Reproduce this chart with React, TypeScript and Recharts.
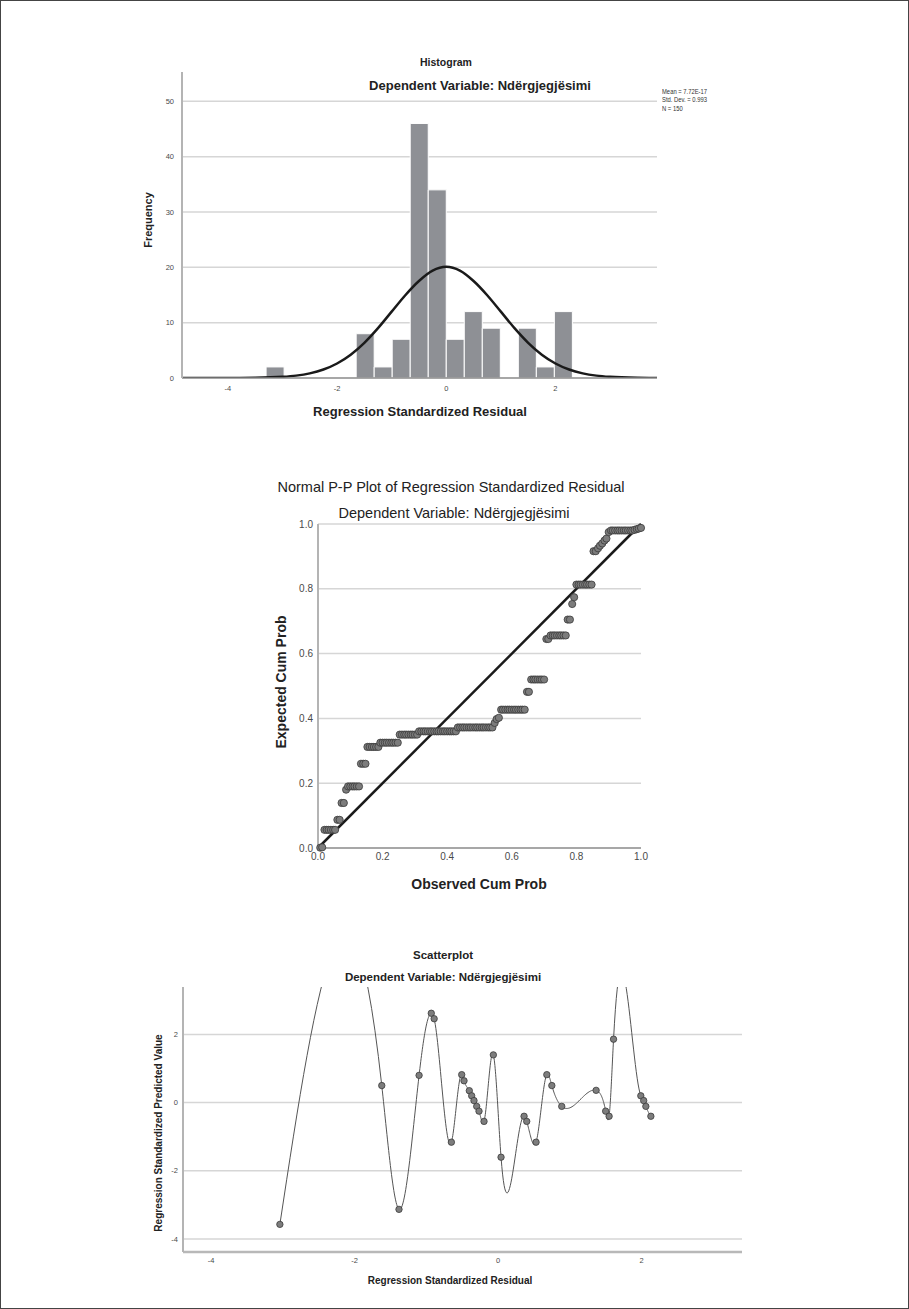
import React from "react";
import {
  ComposedChart,
  Line,
  XAxis,
  YAxis,
  CartesianGrid,
  ReferenceArea,
  ReferenceLine,
  Scatter,
} from "recharts";

// ---- histogram ----
const HIST_BIN_START = [-3.3, -1.65, -1.32, -0.99, -0.66, -0.33, 0.0, 0.33, 0.66, 1.32, 1.65, 1.98];
const HIST_COUNTS = [2, 8, 2, 7, 46, 34, 7, 12, 9, 9, 2, 12];
const HIST_BIN_WIDTH = 0.33;
const HIST_X_TICKS = [-4, -2, 0, 2];
const HIST_Y_TICKS = [0, 10, 20, 30, 40, 50];
const HIST_GRID = [10, 20, 30, 40, 50];
// normal curve
const HIST_CURVE_X = [
  -4.84, -4.5, -4.0, -3.5, -3.0, -2.75, -2.5, -2.25, -2.0, -1.75, -1.5, -1.25, -1.0, -0.75, -0.5, -0.25,
  0, 0.25, 0.5, 0.75, 1.0, 1.25, 1.5, 1.75, 2.0, 2.25, 2.5, 2.75, 3.0, 3.5, 3.86,
];
const HIST_CURVE_Y = [
  0, 0, 0.01, 0.04, 0.21, 0.43, 0.84, 1.53, 2.62, 4.21, 6.36, 9.01, 11.99, 14.96, 17.53, 19.4,
  20.1, 19.4, 17.53, 14.96, 11.99, 9.01, 6.36, 4.21, 2.62, 1.53, 0.84, 0.43, 0.21, 0.04, 0.01,
];
const HIST_STATS = ["Mean = 7.72E-17", "Std. Dev. = 0.993", "N = 150"];

// ---- P-P plot ----
const PP_TICKS = [0, 0.2, 0.4, 0.6, 0.8, 1.0];
const PP_GRID = [0.2, 0.4, 0.6, 0.8, 1.0];
const PP_DIAGONAL = [0, 1];
const PP_OBSERVED = [
  0.007, 0.013, 0.02, 0.027, 0.033, 0.04, 0.047, 0.053, 0.06, 0.067,
  0.073, 0.08, 0.087, 0.093, 0.1, 0.107, 0.113, 0.12, 0.127, 0.133,
  0.14, 0.147, 0.153, 0.16, 0.167, 0.173, 0.18, 0.187, 0.193, 0.2,
  0.207, 0.213, 0.22, 0.227, 0.233, 0.24, 0.247, 0.253, 0.26, 0.267,
  0.273, 0.28, 0.287, 0.293, 0.3, 0.307, 0.313, 0.32, 0.327, 0.333,
  0.34, 0.347, 0.353, 0.36, 0.367, 0.373, 0.38, 0.387, 0.393, 0.4,
  0.407, 0.413, 0.42, 0.427, 0.433, 0.44, 0.447, 0.453, 0.46, 0.467,
  0.473, 0.48, 0.487, 0.493, 0.5, 0.507, 0.513, 0.52, 0.527, 0.533,
  0.54, 0.547, 0.553, 0.56, 0.567, 0.573, 0.58, 0.587, 0.593, 0.6,
  0.607, 0.613, 0.62, 0.627, 0.633, 0.64, 0.647, 0.653, 0.66, 0.667,
  0.673, 0.68, 0.687, 0.693, 0.7, 0.707, 0.713, 0.72, 0.727, 0.733,
  0.74, 0.747, 0.753, 0.76, 0.767, 0.773, 0.78, 0.787, 0.793, 0.8,
  0.807, 0.813, 0.82, 0.827, 0.833, 0.84, 0.847, 0.853, 0.86, 0.867,
  0.873, 0.88, 0.887, 0.893, 0.9, 0.907, 0.913, 0.92, 0.927, 0.933,
  0.94, 0.947, 0.953, 0.96, 0.967, 0.973, 0.98, 0.987, 0.993, 1.0,
];
const PP_EXPECTED = [
  0.001, 0.002, 0.056, 0.056, 0.056, 0.056, 0.056, 0.056, 0.087, 0.087,
  0.139, 0.139, 0.18, 0.19, 0.19, 0.19, 0.19, 0.19, 0.19, 0.26,
  0.26, 0.26, 0.312, 0.312, 0.312, 0.312, 0.312, 0.312, 0.325, 0.325,
  0.325, 0.325, 0.325, 0.325, 0.325, 0.325, 0.325, 0.35, 0.35, 0.35,
  0.35, 0.35, 0.35, 0.35, 0.35, 0.35, 0.36, 0.36, 0.36, 0.36,
  0.36, 0.36, 0.36, 0.36, 0.36, 0.36, 0.36, 0.36, 0.36, 0.36,
  0.36, 0.36, 0.36, 0.36, 0.372, 0.372, 0.372, 0.372, 0.372, 0.372,
  0.372, 0.372, 0.372, 0.372, 0.372, 0.372, 0.372, 0.372, 0.372, 0.372,
  0.372, 0.386, 0.398, 0.402, 0.427, 0.427, 0.427, 0.427, 0.427, 0.427,
  0.427, 0.427, 0.427, 0.427, 0.427, 0.427, 0.482, 0.482, 0.52, 0.52,
  0.52, 0.52, 0.52, 0.52, 0.52, 0.645, 0.645, 0.656, 0.656, 0.656,
  0.656, 0.656, 0.656, 0.656, 0.656, 0.705, 0.705, 0.753, 0.774, 0.813,
  0.813, 0.813, 0.813, 0.813, 0.813, 0.813, 0.813, 0.916, 0.916, 0.925,
  0.933, 0.94, 0.949, 0.955, 0.975, 0.98, 0.98, 0.98, 0.98, 0.98,
  0.98, 0.98, 0.98, 0.98, 0.98, 0.98, 0.982, 0.984, 0.986, 0.988,
];

// ---- scatterplot ----
const SCAT_X = [
  -3.04, -1.62, -1.38, -1.1, -0.93, -0.89, -0.65, -0.506, -0.474, -0.4, -0.367, -0.335, -0.297, -0.265,
  -0.195, -0.065, 0.042, 0.363, 0.4, 0.53, 0.68, 0.75, 0.888, 1.367, 1.5, 1.548, 1.61, 1.99, 2.03, 2.06, 2.13,
];
const SCAT_Y = [
  -3.57, 0.5, -3.13, 0.8, 2.62, 2.46, -1.16, 0.82, 0.64, 0.35, 0.2, 0.06, -0.11, -0.25,
  -0.55, 1.4, -1.6, -0.4, -0.55, -1.16, 0.82, 0.5, -0.11, 0.36, -0.25, -0.4, 1.86, 0.2, 0.06, -0.11, -0.4,
];
const SCAT_TICKS = [-4, -2, 0, 2];

const FONT = '"Liberation Sans", Arial, sans-serif';
const TICK = { fontSize: 7.5, fill: "#4a4a4a", fontFamily: FONT };
const GRID = "#d6d6d6";

// natural cubic spline y(x) drawn as a d3-style curve factory (SPSS "spline" line)
const xSpline = (context: any) => {
  let px: number[] = [];
  let py: number[] = [];
  return {
    areaStart() {},
    areaEnd() {},
    lineStart() {
      px = [];
      py = [];
    },
    point(x: number, y: number) {
      px.push(+x);
      py.push(+y);
    },
    lineEnd() {
      const n = px.length;
      if (!n) return;
      context.moveTo(px[0], py[0]);
      if (n < 3) {
        for (let i = 1; i < n; i++) context.lineTo(px[i], py[i]);
        return;
      }
      const h: number[] = [];
      for (let i = 0; i < n - 1; i++) h.push(px[i + 1] - px[i]);
      const a: number[] = [], b: number[] = [], c: number[] = [], d: number[] = [];
      for (let i = 1; i < n - 1; i++) {
        a.push(h[i - 1]);
        b.push(2 * (h[i - 1] + h[i]));
        c.push(h[i]);
        d.push(6 * ((py[i + 1] - py[i]) / h[i] - (py[i] - py[i - 1]) / h[i - 1]));
      }
      const k = b.length;
      for (let i = 1; i < k; i++) {
        const w = a[i] / b[i - 1];
        b[i] -= w * c[i - 1];
        d[i] -= w * d[i - 1];
      }
      const m = new Array(n).fill(0);
      m[k] = d[k - 1] / b[k - 1];
      for (let i = k - 2; i >= 0; i--) m[i + 1] = (d[i] - c[i] * m[i + 2]) / b[i];
      for (let i = 0; i < n - 1; i++) {
        const steps = 30;
        for (let s = 1; s <= steps; s++) {
          const x = px[i] + (h[i] * s) / steps;
          const A = (px[i + 1] - x) / h[i];
          const B = 1 - A;
          const y =
            A * py[i] + B * py[i + 1] + ((A * A * A - A) * m[i] + (B * B * B - B) * m[i + 1]) * (h[i] * h[i]) / 6;
          context.lineTo(x, y);
        }
      }
    },
  };
};

function Txt({
  x, y, size, bold, rotate, children, color = "#222",
}: {
  x: number; y: number; size: number; bold?: boolean; rotate?: boolean; children: React.ReactNode; color?: string;
}) {
  return (
    <div
      style={{
        position: "absolute",
        left: x,
        top: y,
        transform: `translate(-50%, -50%)${rotate ? " rotate(-90deg)" : ""}`,
        whiteSpace: "nowrap",
        fontSize: size,
        fontWeight: bold ? "bold" : "normal",
        color,
        lineHeight: 1,
      }}
    >
      {children}
    </div>
  );
}

export default function App() {
  const histCurve = HIST_CURVE_X.map((x, i) => ({ x, y: HIST_CURVE_Y[i] }));
  const ppPoints = PP_OBSERVED.map((x, i) => ({ x, y: PP_EXPECTED[i] }));
  const scatPoints = SCAT_X.map((x, i) => ({ x, y: SCAT_Y[i] }));

  return (
    <div
      style={{
        position: "absolute",
        left: 0,
        top: 0,
        width: 909,
        height: 1309,
        background: "#fff",
        fontFamily: FONT,
        overflow: "hidden",
      }}
    >
      <div
        style={{
          position: "absolute",
          left: 0,
          top: 0,
          width: 909,
          height: 1309,
          border: "1px solid #444",
          boxSizing: "border-box",
          pointerEvents: "none",
        }}
      />

      {/* Histogram */}
      <Txt x={446} y={62} size={10.5} bold>Histogram</Txt>
      <Txt x={480} y={85} size={13} bold>Dependent Variable: Ndërgjegjësimi</Txt>
      <div
        style={{
          position: "absolute",
          left: 662,
          top: 88,
          fontSize: 7.5,
          lineHeight: "8.3px",
          color: "#333",
          transform: "scaleX(0.78)",
          transformOrigin: "left top",
          whiteSpace: "nowrap",
        }}
      >
        {HIST_STATS.map((s) => (
          <div key={s}>{s}</div>
        ))}
      </div>
      <Txt x={148} y={220} size={11} bold rotate>Frequency</Txt>
      <Txt x={420} y={411} size={13} bold>Regression Standardized Residual</Txt>
      <div style={{ position: "absolute", left: 0, top: 60 }}>
        <ComposedChart
          width={909}
          height={346}
          data={histCurve}
          margin={{ top: 12, right: 252, bottom: 4, left: 142 }}
        >
          <CartesianGrid vertical={false} horizontalValues={HIST_GRID} stroke={GRID} strokeWidth={1.5} />
          <XAxis
            dataKey="x"
            type="number"
            domain={[-4.84, 3.86]}
            ticks={HIST_X_TICKS}
            allowDataOverflow
            tickLine={false}
            height={24}
            stroke="#8a8a8a"
            strokeWidth={1.5}
            tick={TICK}
          />
          <YAxis
            type="number"
            domain={[0, 55.3]}
            ticks={HIST_Y_TICKS}
            allowDataOverflow
            tickLine={false}
            width={40}
            stroke="#b4b4b4"
            strokeWidth={2}
            tick={TICK}
          />
          {HIST_BIN_START.map((s, i) => (
            <ReferenceArea
              key={s}
              x1={s}
              x2={s + HIST_BIN_WIDTH}
              y1={0}
              y2={HIST_COUNTS[i]}
              fill="#8e9095"
              fillOpacity={1}
              stroke="#ffffff"
              strokeWidth={1}
              ifOverflow="visible"
            />
          ))}
          <Line
            dataKey="y"
            type="monotone"
            stroke="#1a1a1a"
            strokeWidth={2.5}
            dot={false}
            isAnimationActive={false}
          />
        </ComposedChart>
      </div>

      {/* Normal P-P plot */}
      <Txt x={451} y={487} size={14.5}>Normal P-P Plot of Regression Standardized Residual</Txt>
      <Txt x={454} y={513} size={14.5}>Dependent Variable: Ndërgjegjësimi</Txt>
      <Txt x={281} y={682} size={14} bold rotate>Expected Cum Prob</Txt>
      <Txt x={479} y={884} size={14} bold>Observed Cum Prob</Txt>
      <div style={{ position: "absolute", left: 0, top: 515 }}>
        <ComposedChart width={909} height={360} margin={{ top: 9, right: 268, bottom: 3, left: 278 }}>
          <CartesianGrid vertical={false} horizontalValues={PP_GRID} stroke={GRID} strokeWidth={1.5} />
          <XAxis
            dataKey="x"
            type="number"
            domain={[0, 1]}
            ticks={PP_TICKS}
            tickFormatter={(v: number) => v.toFixed(1)}
            tickLine={false}
            tickSize={3}
            tickMargin={2}
            height={24}
            stroke="#8a8a8a"
            strokeWidth={1.5}
            tick={{ ...TICK, fontSize: 10 }}
          />
          <YAxis
            dataKey="y"
            type="number"
            domain={[0, 1]}
            ticks={PP_TICKS}
            tickFormatter={(v: number) => v.toFixed(1)}
            tickLine={false}
            tickSize={3}
            tickMargin={2}
            width={40}
            stroke="#b4b4b4"
            strokeWidth={2}
            tick={{ ...TICK, fontSize: 10 }}
          />
          <Scatter
            data={ppPoints}
            isAnimationActive={false}
            shape={(p: any) => (
              <circle cx={p.cx} cy={p.cy} r={3.6} fill="#7c7c7c" stroke="#3a3a3a" strokeWidth={0.8} />
            )}
          />
          <ReferenceLine
            segment={[
              { x: PP_DIAGONAL[0], y: PP_DIAGONAL[0] },
              { x: PP_DIAGONAL[1], y: PP_DIAGONAL[1] },
            ]}
            stroke="#1a1a1a"
            strokeWidth={2.5}
          />
        </ComposedChart>
      </div>

      {/* Scatterplot */}
      <Txt x={443} y={956} size={11.5} bold>Scatterplot</Txt>
      <Txt x={443} y={978} size={11.5} bold>Dependent Variable: Ndërgjegjësimi</Txt>
      <Txt x={159} y={1133} size={10} bold rotate>Regression Standardized Predicted Value</Txt>
      <Txt x={450} y={1281} size={10} bold>Regression Standardized Residual</Txt>
      <div style={{ position: "absolute", left: 0, top: 980 }}>
        <ComposedChart
          width={909}
          height={295}
          data={scatPoints}
          margin={{ top: 7, right: 167, bottom: 3, left: 153 }}
        >
          <CartesianGrid vertical={false} horizontalValues={SCAT_TICKS} stroke={GRID} strokeWidth={1.5} />
          <XAxis
            dataKey="x"
            type="number"
            domain={[-4.39, 3.4]}
            ticks={SCAT_TICKS}
            allowDataOverflow
            tickLine={false}
            tickSize={3}
            tickMargin={3}
            height={20}
            stroke="#b8b8b8"
            strokeWidth={2.5}
            tick={TICK}
          />
          <YAxis
            type="number"
            domain={[-4.38, 3.39]}
            ticks={SCAT_TICKS}
            allowDataOverflow
            tickLine={false}
            tickSize={3}
            tickMargin={2}
            width={30}
            stroke="#b4b4b4"
            strokeWidth={2}
            tick={TICK}
          />
          <Line
            dataKey="y"
            type={xSpline as any}
            stroke="#555"
            strokeWidth={1}
            isAnimationActive={false}
            dot={(p: any) => (
              <circle key={p.index} cx={p.cx} cy={p.cy} r={3.2} fill="#7d7d7d" stroke="#3a3a3a" strokeWidth={0.8} />
            )}
          />
        </ComposedChart>
      </div>
    </div>
  );
}
